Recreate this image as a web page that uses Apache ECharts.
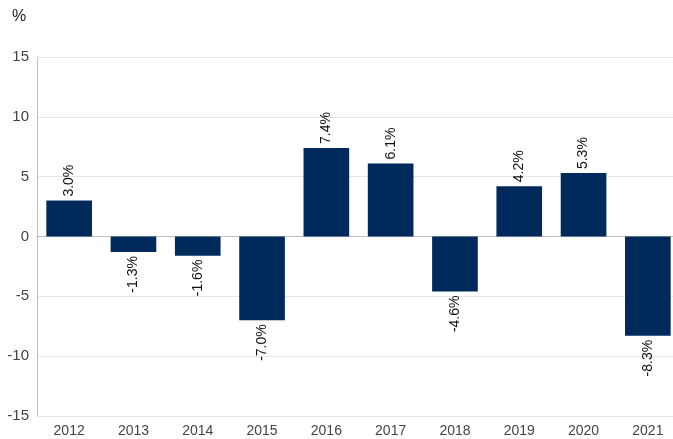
<!DOCTYPE html>
<html>
<head>
<meta charset="utf-8">
<script src="https://cdn.jsdelivr.net/npm/echarts@6/dist/echarts.min.js"></script>
<style>
  html, body { margin: 0; padding: 0; background: #fff; }
  #chart { width: 673px; height: 439px; }
</style>
</head>
<body>
<div id="chart"></div>
<script>
const years = ["2012", "2013", "2014", "2015", "2016", "2017", "2018", "2019", "2020", "2021"];
const values = [3.0, -1.3, -1.6, -7.0, 7.4, 6.1, -4.6, 4.2, 5.3, -8.3];
const yTicks = [-15, -10, -5, 0, 5, 10, 15];

const chart = echarts.init(document.getElementById("chart"));

const barData = values.map(v => ({
  value: v,
  label: v >= 0
    ? { position: "top", align: "left" }
    : { position: "bottom", align: "right" }
}));

chart.setOption({
  animation: false,
  textStyle: { fontFamily: "Liberation Sans, Arial, sans-serif" },
  title: {
    text: "%",
    left: 7,
    top: 4,
    textStyle: { fontSize: 16, fontWeight: "normal", color: "#222" }
  },
  // plot area runs a little past the right edge, as in the original
  grid: { left: 37, width: 643, top: 57, bottom: 23, containLabel: false, outerBoundsMode: "none" },
  xAxis: {
    type: "category",
    data: years,
    axisTick: { show: false },
    axisLine: { lineStyle: { color: "#bfbfbf" } },
    axisLabel: { color: "#444", fontSize: 14, margin: 8 }
  },
  yAxis: {
    type: "value",
    min: yTicks[0],
    max: yTicks[yTicks.length - 1],
    interval: 5,
    axisLine: { show: true, lineStyle: { color: "#bfbfbf" } },
    axisTick: { show: false },
    axisLabel: { color: "#444", fontSize: 15, margin: 8 },
    splitLine: { lineStyle: { color: "#e6e6e6" } }
  },
  series: [{
    type: "bar",
    data: barData,
    barCategoryGap: "29%",
    itemStyle: { color: "#002A5C" },
    label: {
      show: true,
      rotate: 90,
      verticalAlign: "middle",
      distance: 4,
      fontSize: 14,
      color: "#111",
      formatter: p => p.value.toFixed(1) + "%"
    }
  }]
});
</script>
</body>
</html>
